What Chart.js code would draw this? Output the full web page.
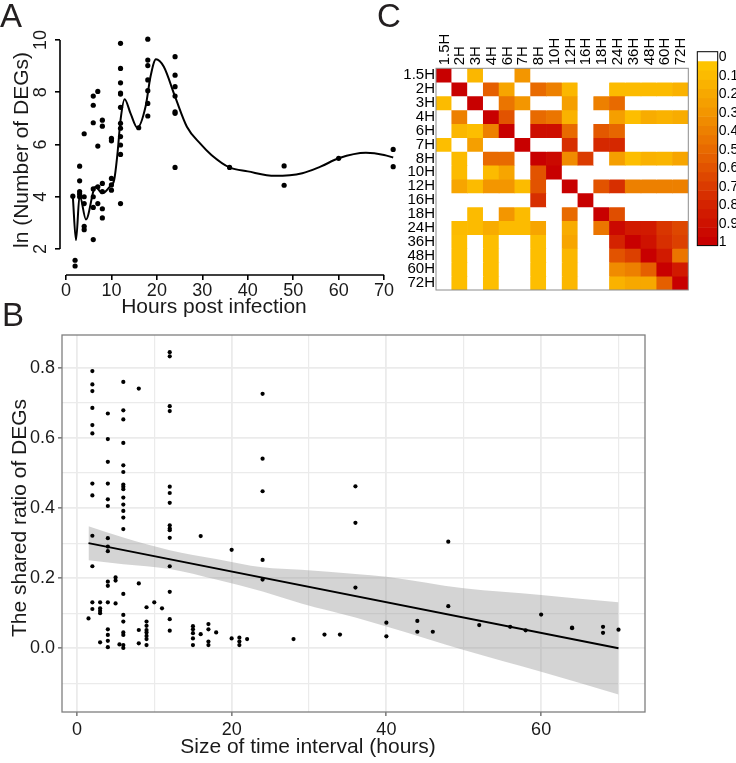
<!DOCTYPE html>
<html><head><meta charset="utf-8">
<script src="https://cdn.jsdelivr.net/npm/chart.js@4.4.1/dist/chart.umd.min.js"></script>
<style>
html,body{margin:0;padding:0;background:#fff;}
body{width:736px;height:763px;position:relative;overflow:hidden;font-family:"Liberation Sans",Arial,sans-serif;}
canvas{position:absolute;}
.tag{position:absolute;font-size:33px;line-height:33px;color:#231f20;}
</style></head><body>
<canvas id="cA" width="410" height="320" style="left:0;top:0"></canvas>
<canvas id="cB" width="660" height="443" style="left:0;top:320px"></canvas>
<canvas id="cC" width="336" height="300" style="left:400px;top:0"></canvas>
<canvas id="cK" width="46" height="215" style="left:690px;top:40px"></canvas>
<div class="tag" style="left:0;top:-1px">A</div>
<div class="tag" style="left:2px;top:298px">B</div>
<div class="tag" style="left:377px;top:-1px">C</div>
<script>
// ---------- Panel A data ----------
const aHours  = [1.5, 2, 2, 3, 3, 3, 3, 3, 4, 4, 4, 4, 4, 6, 6, 6, 6, 6, 6, 6, 7, 7, 7, 7, 8, 8, 8, 8, 8, 8, 10, 10, 10, 10, 10,
                 12, 12, 12, 12, 12, 12, 12, 12, 12, 12, 12, 12, 16, 18, 18, 18, 18, 18, 18, 18, 24, 24, 24, 24, 24, 24, 24, 36, 48, 48, 60, 72, 72];
const aLnDEGs = [4.02, 1.57, 1.35, 5.17, 4.61, 4.2, 4.1, 4.0, 6.41, 4.0, 3.74, 2.87, 2.74, 7.85, 7.5, 6.83, 4.3, 4.0, 3.59, 2.36, 8.03, 5.94, 4.38, 3.74, 6.93, 6.7, 4.51, 4.2, 3.54, 3.19, 6.23, 6.14, 4.70, 4.45, 4.25,
                 9.87, 8.91, 8.36, 7.97, 7.93, 7.42, 6.81, 6.62, 6.30, 5.98, 5.62, 3.74, 6.64, 10.03, 9.23, 9.02, 8.47, 8.06, 7.57, 7.09, 9.36, 8.65, 8.21, 7.85, 7.25, 7.19, 5.12, 5.12, 5.18, 4.44, 5.47, 5.81, 5.15];
const curveHours = [1.5, 2.2, 3.0, 4.4, 6.5, 8.0, 9.6, 10.6, 11.3, 12.0, 12.9, 14.2, 15.7, 17.5, 18.6, 19.8, 21.5, 24, 26.6, 29.5, 32, 36, 40, 46, 52, 56, 60, 66, 70, 72];
const curveLn    = [4.02, 2.34, 4.06, 3.13, 4.38, 4.13, 4.38, 4.64, 5.6, 6.93, 7.73, 7.19, 6.64, 7.44, 8.6, 9.26, 8.98, 7.83, 6.68, 6.04, 5.6, 5.12, 4.97, 4.80, 4.9, 5.15, 5.47, 5.68, 5.6, 5.5];
const aXTicks = [0, 10, 20, 30, 40, 50, 60, 70];
const aYTicks = [2, 4, 6, 8, 10];

// ---------- Panel B data ----------
const bInterval = [1.5,
  2,2,2,2,2,2,2,2,2,2,2,2,
  3,3,3,3,3,
  4,4,4,4,4,4,4,4,4,4,4,4,4,4,4,4,
  5,5,5, 5.5,
  6,6,6,6,6,6,6,6,6,6,6,6,6,6,6,6,6,6,6,6,6,
  8,8,8,8,
  9,9,9,9,9,9,9,9,
  10, 11,
  12,12,12,12,12,12,12,12,12,12,12,12,12,12,12,
  15,15,15,15,15, 16,16, 17,17,17,17, 18, 20,20, 21,21,21, 22,
  24,24,24,24,24, 28, 32, 34, 36,36,36, 40,40, 44,44, 46, 48,48, 52, 56, 58, 60, 64,64, 68,68, 70];
const bRatio = [0.085,
  0.791,0.753,0.734,0.686,0.637,0.613,0.470,0.436,0.321,0.234,0.131,0.112,
  0.131,0.114,0.107,0.100,0.017,
  0.670,0.597,0.532,0.470,0.425,0.406,0.314,0.290,0.277,0.190,0.178,0.131,0.054,0.038,0.021,0.003,
  0.202,0.193,0.128, 0.011,
  0.760,0.679,0.653,0.586,0.522,0.503,0.467,0.461,0.454,0.430,0.410,0.392,0.373,0.340,0.155,0.095,0.076,0.045,0.038,0.009,0.001,
  0.741,0.185,0.052,0.014,
  0.117,0.076,0.064,0.052,0.045,0.035,0.026,0.009,
  0.131, 0.114,
  0.845,0.833,0.691,0.677,0.461,0.443,0.415,0.351,0.342,0.337,0.315,0.234,0.161,0.083,0.050,
  0.063,0.054,0.043,0.028,0.009, 0.320,0.040, 0.069,0.054,0.019,0.009, 0.045, 0.281,0.028, 0.030,0.019,0.009, 0.026,
  0.726,0.541,0.448,0.252,0.196, 0.026, 0.039, 0.039, 0.462,0.358,0.173, 0.073,0.034, 0.078,0.047, 0.047, 0.304,0.120, 0.066, 0.061, 0.051, 0.096, 0.059,0.057, 0.061,0.044, 0.053];
const fitX = [1.5, 70];
const fitY = [0.300, 0.000];
const bandX     = [1.5, 6, 12, 18, 24, 29, 36, 40, 50, 60, 70];
const bandUpper = [0.348, 0.316, 0.280, 0.255, 0.231, 0.224, 0.212, 0.204, 0.171, 0.152, 0.131];
const bandLower = [0.251, 0.240, 0.226, 0.196, 0.162, 0.128, 0.088, 0.062, -0.005, -0.067, -0.132];
const bXTicks = [0, 10, 20, 30, 40, 50, 60, 70];
const bYTicks = [-0.1, 0, 0.1, 0.2, 0.3, 0.4, 0.5, 0.6, 0.7, 0.8];

// ---------- Panel C data ----------
const heatTimes = ['1.5H','2H','3H','4H','6H','7H','8H','10H','12H','16H','18H','24H','36H','48H','60H','72H'];
const heatValues = [
  [1, 0, .12, 0, 0, .3, 0, 0, 0, 0, 0, 0, 0, 0, 0, 0],
  [0, 1, 0, .55, .22, 0, .5, .4, .12, 0, 0, .1, .1, .1, .1, .15],
  [.1, 0, 1, 0, .45, .3, 0, 0, .25, 0, .4, .5, 0, 0, 0, 0],
  [0, .4, 0, 1, .6, 0, .5, .45, .15, 0, 0, .25, .08, .18, .15, .18],
  [0, .12, .08, .4, 1, 0, .92, .92, .5, 0, .58, .52, 0, 0, 0, 0],
  [.08, 0, .25, 0, 0, 1, 0, 0, .75, 0, .78, .78, 0, 0, 0, 0],
  [0, .1, 0, .5, .5, 0, 1, .95, .35, .7, 0, .25, .08, .15, .13, .22],
  [0, .1, 0, .1, .22, 0, .6, 1, 0, 0, 0, 0, 0, 0, 0, 0],
  [0, .22, .1, .3, .3, .1, .6, 0, 1, 0, .6, .75, .4, .4, .4, .4],
  [0, 0, 0, 0, 0, 0, .75, 0, 0, 1, 0, 0, 0, 0, 0, 0],
  [0, 0, .1, 0, .3, .1, 0, 0, .5, 0, 1, .62, 0, 0, 0, 0],
  [0, .1, .1, .18, .1, .1, .22, 0, .18, 0, .45, .95, .85, .85, .72, .65],
  [0, .08, 0, .08, 0, 0, .08, 0, .22, 0, 0, .8, 1, .9, .75, .68],
  [0, .08, 0, .08, 0, 0, .08, 0, .12, 0, 0, .6, .68, 1, .85, .45],
  [0, .08, 0, .08, 0, 0, .08, 0, .12, 0, 0, .35, .4, .55, 1, .85],
  [0, .08, 0, .08, 0, 0, .08, 0, .12, 0, 0, .15, .2, .2, .55, 1]
];
const cbTicks = [0, 0.1, 0.2, 0.3, 0.4, 0.5, 0.6, 0.7, 0.8, 0.9, 1];
const cbSteps = [0.05,0.1,0.15,0.2,0.25,0.3,0.35,0.4,0.45,0.5,0.55,0.6,0.65,0.7,0.75,0.8,0.85,0.9,0.95,1];

// ---------- common ----------
const FONT = '"Liberation Sans", Arial, sans-serif';
const INK = '#1a1a1a';
Chart.defaults.font.family = FONT;
Chart.defaults.color = INK;
const base = {responsive:false, animation:false, events:[], plugins:{legend:{display:false}, tooltip:{enabled:false}}};

// free-positioned axis titles (the reference figure has them off-centre)
const titlesPlugin = (items) => ({
  id: 'titles',
  afterDraw(chart) {
    const ctx = chart.ctx;
    items.forEach(t => {
      ctx.save();
      ctx.fillStyle = INK; ctx.font = t.size + 'px ' + FONT;
      ctx.textAlign = 'center'; ctx.textBaseline = 'middle';
      ctx.translate(t.x, t.y);
      if (t.vertical) ctx.rotate(-Math.PI / 2);
      ctx.fillText(t.text, 0, 0);
      ctx.restore();
    });
  }
});

// colour scale for heatmap
const heatStops = [[0.05,[254,196,0]],[0.3,[243,150,0]],[0.55,[229,95,0]],[0.8,[212,35,0]],[1,[200,0,0]]];
function heatColor(v){
  if (v <= 0) return '#ffffff';
  if (v <= heatStops[0][0]) return 'rgb(' + heatStops[0][1].join(',') + ')';
  for (let i = 1; i < heatStops.length; i++) {
    if (v <= heatStops[i][0]) {
      const [a, ca] = heatStops[i-1], [b, cb] = heatStops[i];
      const t = (v - a) / (b - a);
      return 'rgb(' + ca.map((c, k) => Math.round(c + (cb[k] - c) * t)).join(',') + ')';
    }
  }
  return 'rgb(200,0,0)';
}

// ---------- Panel A ----------
const rAxisPlugin = {
  id: 'rAxis',
  afterDraw(chart) {
    const {ctx, scales: {x, y}, chartArea} = chart;
    ctx.save();
    ctx.strokeStyle = '#000'; ctx.lineWidth = 1.6;
    ctx.beginPath();
    ctx.moveTo(x.getPixelForValue(aXTicks[0]), chartArea.bottom);
    ctx.lineTo(x.getPixelForValue(aXTicks[aXTicks.length-1]), chartArea.bottom);
    ctx.moveTo(chartArea.left, y.getPixelForValue(aYTicks[0]));
    ctx.lineTo(chartArea.left, y.getPixelForValue(aYTicks[aYTicks.length-1]));
    ctx.stroke();
    ctx.fillStyle = INK; ctx.font = '18px ' + FONT; ctx.textAlign = 'center'; ctx.textBaseline = 'middle';
    aYTicks.forEach(v => {
      ctx.save();
      ctx.translate(chartArea.left - 18.5, y.getPixelForValue(v));
      ctx.rotate(-Math.PI/2);
      ctx.fillText(String(v), 0, 0);
      ctx.restore();
    });
    ctx.restore();
  }
};
new Chart(document.getElementById('cA'), {
  type: 'scatter',
  data: {datasets: [
    {data: aHours.map((h, i) => ({x: h, y: aLnDEGs[i]})), pointRadius: 2.6, pointBackgroundColor: '#000', pointBorderWidth: 0},
    {data: curveHours.map((h, i) => ({x: h, y: curveLn[i]})), showLine: true, pointRadius: 0, borderColor: '#000', borderWidth: 2, cubicInterpolationMode: 'monotone'}
  ]},
  options: {...base,
    layout: {padding: {top: 30, right: 3, left: 0, bottom: 0}},
    scales: {
      x: {type: 'linear', min: -1.32, max: 74.82,
          afterBuildTicks: s => { s.ticks = aXTicks.map(v => ({value: v})); },
          afterFit: s => { s.height = 45; },
          grid: {drawOnChartArea: false, tickLength: 5, color: '#000', tickColor: '#000', lineWidth: 1.6},
          border: {display: false},
          ticks: {font: {size: 18}, padding: 0, maxRotation: 0, color: INK}},
      y: {type: 'linear', min: 1.005, max: 10.38,
          afterBuildTicks: s => { s.ticks = aYTicks.map(v => ({value: v})); },
          afterFit: s => { s.width = 60; },
          grid: {drawOnChartArea: false, tickLength: 5, color: '#000', tickColor: '#000', lineWidth: 1.6},
          border: {display: false},
          ticks: {display: false}}
    }
  },
  plugins: [rAxisPlugin, titlesPlugin([
    {text: 'Hours post infection', x: 214, y: 307, size: 21},
    {text: 'ln (Number of DEGs)', x: 22, y: 150, size: 21, vertical: true}
  ])]
});

// ---------- Panel B ----------
const boxPlugin = (color, width) => ({
  id: 'box',
  afterDatasetsDraw(chart) {
    const {ctx, chartArea: a} = chart;
    ctx.save(); ctx.strokeStyle = color; ctx.lineWidth = width;
    ctx.strokeRect(a.left, a.top, a.right - a.left, a.bottom - a.top);
    ctx.restore();
  }
});
const isMajorX = v => Math.abs(v % 20) < 1e-6;
const isMajorY = v => Math.abs(Math.round(v * 10)) % 2 === 0;
new Chart(document.getElementById('cB'), {
  type: 'scatter',
  data: {datasets: [
    {data: bInterval.map((h, i) => ({x: h, y: bRatio[i]})), pointRadius: 2.1, pointBackgroundColor: '#000', pointBorderWidth: 0},
    {data: fitX.map((h, i) => ({x: h, y: fitY[i]})), showLine: true, pointRadius: 0, borderColor: '#000', borderWidth: 2},
    {data: bandX.map((h, i) => ({x: h, y: bandUpper[i]})), showLine: true, pointRadius: 0, borderWidth: 0, borderColor: 'rgba(0,0,0,0)',
     fill: '+1', backgroundColor: 'rgba(153,153,153,0.42)', cubicInterpolationMode: 'monotone'},
    {data: bandX.map((h, i) => ({x: h, y: bandLower[i]})), showLine: true, pointRadius: 0, borderWidth: 0, borderColor: 'rgba(0,0,0,0)',
     fill: false, cubicInterpolationMode: 'monotone'}
  ]},
  options: {...base,
    layout: {padding: {top: 15, right: 15, left: 0, bottom: 0}},
    scales: {
      x: {type: 'linear', min: -1.925, max: 73.425,
          afterBuildTicks: s => { s.ticks = bXTicks.map(v => ({value: v})); },
          afterFit: s => { s.height = 51; },
          grid: {color: '#ebebeb', lineWidth: c => isMajorX(c.tick.value) ? 1.8 : 1.2, tickLength: 4,
                 tickColor: c => isMajorX(c.tick.value) ? '#333' : 'rgba(0,0,0,0)', tickWidth: 1},
          border: {display: false},
          ticks: {font: {size: 18}, padding: 3, maxRotation: 0, color: INK, callback: v => isMajorX(v) ? String(v) : ''}},
      y: {type: 'linear', min: -0.182, max: 0.894,
          afterBuildTicks: s => { s.ticks = bYTicks.map(v => ({value: v})); },
          afterFit: s => { s.width = 62; },
          grid: {color: '#ebebeb', lineWidth: c => isMajorY(c.tick.value) ? 1.8 : 1.2, tickLength: 4,
                 tickColor: c => isMajorY(c.tick.value) ? '#333' : 'rgba(0,0,0,0)', tickWidth: 1},
          border: {display: false},
          ticks: {font: {size: 18}, padding: 3, color: INK, callback: v => isMajorY(v) ? v.toFixed(1) : ''}}
    }
  },
  plugins: [boxPlugin('#7f7f7f', 1.3), titlesPlugin([
    {text: 'Size of time interval (hours)', x: 308, y: 427, size: 21},
    {text: 'The shared ratio of DEGs', x: 20.5, y: 198, size: 21, vertical: true}
  ])]
});

// ---------- Panel C heatmap ----------
const nT = heatTimes.length;
const colLabelPlugin = {
  id: 'colLabels',
  afterDraw(chart) {
    const {ctx, scales: {x}, chartArea} = chart;
    ctx.save();
    ctx.fillStyle = '#000'; ctx.font = '15px ' + FONT; ctx.textAlign = 'left'; ctx.textBaseline = 'middle';
    heatTimes.forEach((t, i) => {
      ctx.save();
      ctx.translate(x.getPixelForValue(i) + 0.5, chartArea.top - 3);
      ctx.rotate(-Math.PI / 2);
      ctx.fillText(t, 0, 0);
      ctx.restore();
    });
    ctx.restore();
  }
};
new Chart(document.getElementById('cC'), {
  type: 'bar',
  data: {labels: heatTimes, datasets: heatValues.map((row, r) => ({
    data: row.map(() => [nT - 1 - r, nT - r]),
    backgroundColor: row.map(heatColor),
    grouped: false, barPercentage: 1, categoryPercentage: 1, borderWidth: 0
  }))},
  options: {...base,
    layout: {padding: {top: 0, right: 47.7, left: 0, bottom: 7.3}},
    scales: {
      x: {position: 'top', afterFit: s => { s.height = 68.3; },
          grid: {display: false, drawTicks: false}, border: {display: false},
          ticks: {display: false}},
      y: {type: 'linear', min: 0, max: nT,
          afterBuildTicks: s => { s.ticks = heatTimes.map((t, i) => ({value: nT - 0.5 - i})); },
          afterFit: s => { s.width = 36; },
          grid: {display: false, drawTicks: false}, border: {display: false},
          ticks: {font: {size: 15}, color: '#000', padding: 1, autoSkip: false, callback: (v, i) => heatTimes[i]}}
    }
  },
  plugins: [boxPlugin('#8c8c8c', 1), colLabelPlugin]
});

// ---------- Colour key ----------
new Chart(document.getElementById('cK'), {
  type: 'bar',
  data: {labels: ['key'], datasets: [
    {data: [[-0.03, 0.02]], backgroundColor: '#ffffff', grouped: false, barPercentage: 1, categoryPercentage: 1, borderWidth: 0}
  ].concat(cbSteps.map(s => ({data: [[s - 0.03, s + 0.02]], backgroundColor: heatColor(s), grouped: false, barPercentage: 1, categoryPercentage: 1, borderWidth: 0})))},
  options: {...base,
    layout: {padding: {top: 11.7, left: 7.3, right: 0, bottom: 8.3}},
    scales: {
      x: {display: false},
      y: {position: 'right', min: -0.03, max: 1.018, reverse: true,
          afterBuildTicks: s => { s.ticks = cbTicks.map(v => ({value: v})); },
          afterFit: s => { s.width = 18.3; },
          grid: {display: false, drawTicks: false}, border: {display: false},
          ticks: {font: {size: 14}, color: '#000', padding: 1, autoSkip: false, callback: v => String(v)}}
    }
  },
  plugins: [boxPlugin('#000', 1)]
});
</script></body></html>
